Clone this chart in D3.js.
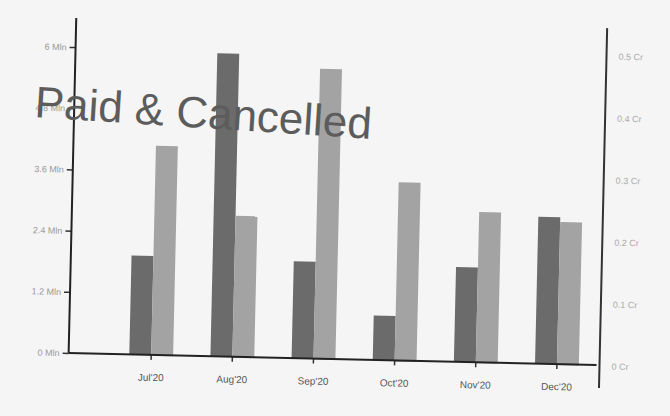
<!DOCTYPE html>
<html>
<head>
<meta charset="utf-8">
<script src="https://cdn.jsdelivr.net/npm/d3@7"></script>
<style>
  body { margin: 0; background: #f5f5f5; }
  svg { display: block; }
</style>
</head>
<body>
<script>
const months = ["Jul'20", "Aug'20", "Sep'20", "Oct'20", "Nov'20", "Dec'20"];
// paid amount, left axis (Mln)
const paid = [1.94, 5.94, 1.9, 0.87, 1.86, 2.88];
// cancelled amount, right axis (Cr)
const cancelled = [0.339, 0.229, 0.469, 0.289, 0.244, 0.231];
const leftTicks = [0, 1.2, 2.4, 3.6, 4.8, 6];
const rightTicks = [0, 0.1, 0.2, 0.3, 0.4, 0.5];

const W = 670, H = 416;
const svg = d3.select("body").append("svg").attr("width", W).attr("height", H);

// the scan is a bit tilted
const g = svg.append("g").attr("transform", "rotate(1.3,335,208)");

const x = d3.scaleBand().domain(months).range([114, 601])
  .paddingInner(0.46).paddingOuter(0.23);
const x1 = d3.scaleBand().domain(["paid", "cancelled"]).range([0, x.bandwidth()]);
const yL = d3.scaleLinear().domain([0, 6.6]).range([359, 22.4]);
const yR = d3.scaleLinear().domain([0, 0.55]).range([360, 19]);

const rows = months.map((m, i) => ({ m, paid: paid[i], cancelled: cancelled[i] }));

const grp = g.selectAll(".month").data(rows).enter().append("g")
  .attr("transform", d => `translate(${x(d.m)},0)`);

grp.append("rect")
  .attr("x", x1("paid"))
  .attr("width", x1.bandwidth())
  .attr("y", d => yL(d.paid))
  .attr("height", d => yL(0) - yL(d.paid))
  .attr("fill", "#6b6b6b");

grp.append("rect")
  .attr("x", x1("cancelled"))
  .attr("width", x1.bandwidth())
  .attr("y", d => yR(d.cancelled))
  .attr("height", d => yR(0) - yR(d.cancelled))
  .attr("fill", "#a3a3a3");

// left axis
const axL = g.append("g").attr("transform", "translate(72,0)")
  .call(d3.axisLeft(yL).tickValues(leftTicks).tickSize(6)
    .tickFormat(d => d + " Mln"));
axL.select(".domain").remove();
axL.selectAll("line").attr("stroke", "#333").attr("stroke-width", 1.5);
axL.selectAll("text").attr("fill", "#999").style("font-family", "Liberation Sans, Arial, sans-serif").style("font-size", "9px");
g.append("line").attr("x1", 72).attr("x2", 72).attr("y1", 24).attr("y2", yL(0))
  .attr("stroke", "#222").attr("stroke-width", 2);

// right axis
const axR = g.append("g").attr("transform", "translate(603,0)")
  .call(d3.axisRight(yR).tickValues(rightTicks).tickSize(0).tickPadding(12)
    .tickFormat(d => d + " Cr"));
axR.select(".domain").remove();
axR.selectAll("text").attr("fill", "#aaa").style("font-family", "Liberation Sans, Arial, sans-serif").style("font-size", "9px");
g.append("line").attr("x1", 603).attr("x2", 603).attr("y1", 22).attr("y2", 382)
  .attr("stroke", "#333").attr("stroke-width", 2);

// bottom axis
const axB = g.append("g").attr("transform", `translate(0,${yL(0)})`)
  .call(d3.axisBottom(x).tickSize(5).tickPadding(14));
axB.select(".domain").remove();
axB.selectAll("line").attr("stroke", "#333").attr("stroke-width", 1.5);
axB.selectAll("text").attr("fill", "#555").style("font-family", "Liberation Sans, Arial, sans-serif").style("font-size", "10px");
g.append("line").attr("x1", 72).attr("x2", 600).attr("y1", yL(0)).attr("y2", yL(0))
  .attr("stroke", "#222").attr("stroke-width", 2);

// title
svg.append("text")
  .attr("transform", "translate(34,117) rotate(3.7)")
  .attr("fill", "#5c5c5c")
  .style("font-family", "Liberation Sans, Arial, sans-serif")
  .style("font-size", "44px")
  .text("Paid & Cancelled");
</script>
</body>
</html>
